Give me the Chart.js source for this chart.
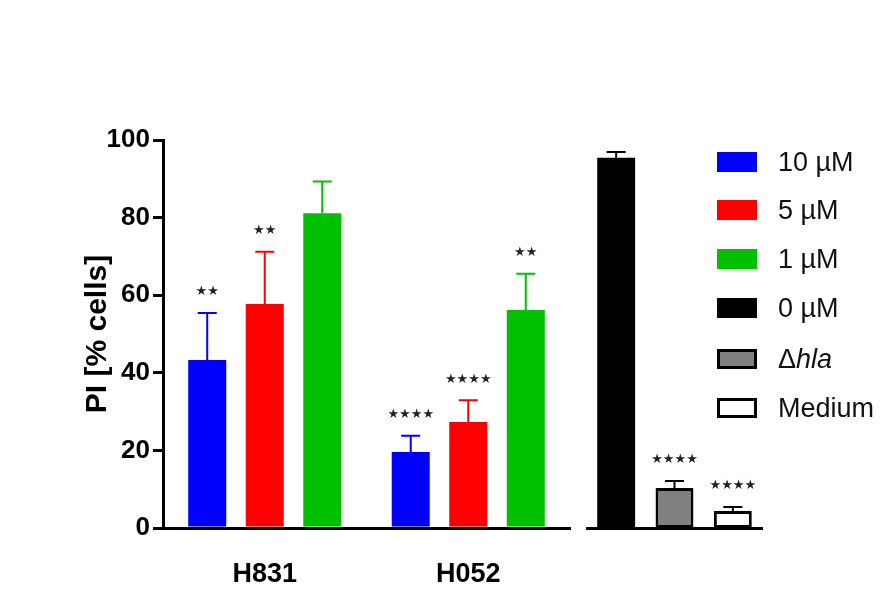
<!DOCTYPE html>
<html><head><meta charset="utf-8">
<script src="https://cdn.jsdelivr.net/npm/chart.js@4/dist/chart.umd.min.js"></script>
<style>
body{margin:0;background:#fff;width:894px;height:605px;position:relative;overflow:hidden;font-family:"Liberation Sans",Arial,sans-serif}
#c1{position:absolute;left:0;top:0}
#c2{position:absolute;left:575px;top:0}
.lg{position:absolute;left:717px;height:50px}
.bx{position:absolute;left:0;width:40px;height:20px;box-sizing:border-box}
.tx{position:absolute;left:61px;font-size:27px;color:#111;white-space:nowrap;line-height:22px}
</style></head><body>
<canvas id="c1" width="575" height="605"></canvas>
<canvas id="c2" width="319" height="605"></canvas>
<div id="legend"></div>
<script>
const groups = ['H831','H052'];
const concLabels = ['10 µM','5 µM','1 µM'];
const concColors = ['#0000ff','#ff0000','#00c000'];
const meanValues = [[43.3,19.6],[57.7,27.3],[81.1,56.2]];
const errValues = [[12.1,4.2],[13.5,5.6],[8.2,9.3]];
const starLabels = [['**','****'],['**','****'],['','**']];
const ctrlLabels = ['0 µM','Δhla','Medium'];
const ctrlValues = [95.4,10.3,4.4];
const ctrlErr = [1.5,1.8,1.0];
const ctrlStars = ['','****','****'];
const ctrlColors = ['#000000','#808080','#ffffff'];
const yTicks = [0,20,40,60,80,100];

const errPlugin = {
  id:'errbars',
  afterDatasetsDraw(chart){
    const ctx=chart.ctx, ys=chart.scales.y;
    chart.data.datasets.forEach((ds,di)=>{
      const meta=chart.getDatasetMeta(di);
      meta.data.forEach((el,i)=>{
        const v=ds.data[i], e=ds.err[i];
        const yTop=ys.getPixelForValue(v+e);
        const col=Array.isArray(ds.errColor)?ds.errColor[i]:ds.errColor;
        ctx.save();ctx.strokeStyle=col;ctx.lineWidth=2;
        ctx.beginPath();ctx.moveTo(el.x,el.y);ctx.lineTo(el.x,yTop);
        ctx.moveTo(el.x-9.5,yTop);ctx.lineTo(el.x+9.5,yTop);ctx.stroke();
        const s=ds.stars[i];
        if(s){ctx.fillStyle='#222';ctx.font='bold 13px "DejaVu Sans",Arial';ctx.textAlign='center';ctx.textBaseline='middle';ctx.fillText(s.replace(/\*/g,'★'),el.x,yTop-21);}
        ctx.restore();
      });
    });
  }
};

const tickFont={family:'"Liberation Sans",Arial',size:26,weight:'bold'};
new Chart(document.getElementById('c1'),{
  type:'bar',
  data:{labels:groups,datasets:concLabels.map((l,i)=>({label:l,data:meanValues[i],err:errValues[i],stars:starLabels[i],
    backgroundColor:concColors[i],errColor:concColors[i],borderWidth:0,categoryPercentage:0.848,barPercentage:0.661}))},
  options:{responsive:false,animation:false,
    layout:{padding:{left:80,top:140,right:5,bottom:0}},
    plugins:{legend:{display:false},tooltip:{enabled:false}},
    scales:{
      x:{grid:{display:false},border:{display:true,color:'#000',width:3},
        ticks:{color:'#000',font:{family:'"Liberation Sans",Arial',size:27,weight:'bold'},padding:22},
        afterFit(s){s.height=77;}},
      y:{min:0,max:100,afterBuildTicks(s){s.ticks=yTicks.map(v=>({value:v}));},
        grid:{display:true,drawOnChartArea:false,color:'#000',tickLength:10,lineWidth:3,tickWidth:3},
        border:{display:true,color:'#000',width:3},
        ticks:{color:'#000',font:tickFont,padding:3},
        title:{display:true,text:'PI [% cells]',color:'#000',font:{family:'"Liberation Sans",Arial',size:30,weight:'bold'},padding:0},
        afterFit(s){s.width=83;}}
    }},
  plugins:[errPlugin]
});

new Chart(document.getElementById('c2'),{
  type:'bar',
  data:{labels:ctrlLabels,datasets:[{label:'ctrl',data:ctrlValues,err:ctrlErr,stars:ctrlStars,
    backgroundColor:ctrlColors,errColor:'#000',borderColor:'#000',borderWidth:[0,3,3],borderSkipped:false,
    categoryPercentage:1,barPercentage:0.65}]},
  options:{responsive:false,animation:false,
    layout:{padding:{left:12,top:140,right:132,bottom:0}},
    plugins:{legend:{display:false},tooltip:{enabled:false}},
    scales:{
      x:{grid:{display:false},border:{display:true,color:'#000',width:3},ticks:{display:false},afterFit(s){s.height=77;}},
      y:{display:false,min:0,max:100}
    }},
  plugins:[errPlugin]
});

const legendItems = concLabels.map((l,i)=>({label:l,fill:concColors[i],border:false}))
  .concat(ctrlLabels.map((l,i)=>({label:l,fill:ctrlColors[i],border:i>0})));
const tops=[152,200,249,298,349,398];
const lg=document.getElementById('legend');
legendItems.forEach((it,i)=>{
  const d=document.createElement('div');d.className='lg';d.style.top=tops[i]+'px';
  const b=document.createElement('div');b.className='bx';b.style.background=it.fill;
  if(it.border)b.style.border='3px solid #000';
  const t=document.createElement('div');t.className='tx';t.style.top='-1px';
  if(it.label==='Δhla'){t.innerHTML='Δ<i>hla</i>';}else t.textContent=it.label;
  d.appendChild(b);d.appendChild(t);lg.appendChild(d);
});
</script></body></html>
